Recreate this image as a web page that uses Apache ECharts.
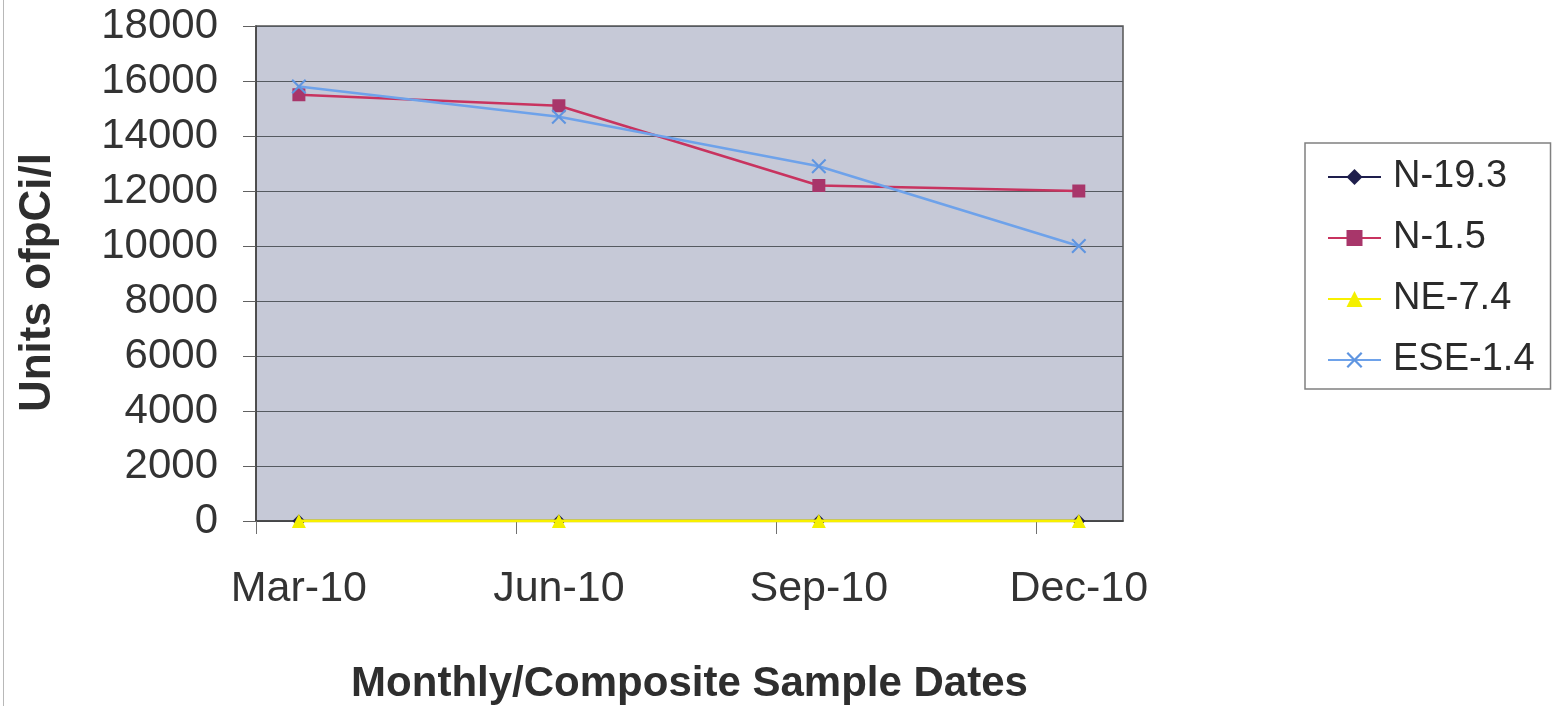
<!DOCTYPE html>
<html>
<head>
<meta charset="utf-8">
<script src="https://cdn.jsdelivr.net/npm/echarts@6/dist/echarts.min.js"></script>
<style>
html,body{margin:0;padding:0;background:#fff;}
#chart{width:1554px;height:706px;}
</style>
</head>
<body>
<div id="chart"></div>
<script>
var dateLabels = ['Mar-10', 'Jun-10', 'Sep-10', 'Dec-10'];
var seriesNames = ['N-19.3', 'N-1.5', 'NE-7.4', 'ESE-1.4'];
var n193 = [0, 0, 0, 0];
var n15 = [15500, 15100, 12200, 12000];
var ne74 = [0, 0, 0, 0];
var ese14 = [15800, 14700, 12900, 10000];
var yTicks = [0, 2000, 4000, 6000, 8000, 10000, 12000, 14000, 16000, 18000];

function pts(arr) { return arr.map(function (v, i) { return [i, v]; }); }

var xSymbol = 'path://M0,1L1,0L5,4L9,0L10,1L6,5L10,9L9,10L5,6L1,10L0,9L4,5Z';
var FONT = 'Liberation Sans, Arial, sans-serif';

var chart = echarts.init(document.getElementById('chart'), null, {renderer: 'canvas'});
chart.setOption({
  animation: false,
  backgroundColor: '#ffffff',
  textStyle: {fontFamily: FONT},
  graphic: [{
    type: 'line', shape: {x1: 3.5, y1: 0, x2: 3.5, y2: 706},
    style: {stroke: '#b8b8b8', lineWidth: 1}
  }],
  grid: {left: 256, right: 431, top: 26, bottom: 185, show: true, containLabel: false,
         outerBoundsMode: 'none',
         backgroundColor: '#c6c9d7', borderWidth: 1.5, borderColor: '#555'},
  legend: {
    orient: 'vertical', left: 1305, top: 143,
    padding: [14, 16, 9, 22],
    backgroundColor: '#ffffff', borderColor: '#808080', borderWidth: 1.5,
    itemWidth: 53, itemHeight: 20, itemGap: 21,
    textStyle: {fontSize: 38, color: '#2a2a2a', fontFamily: FONT, padding: [0, 0, 0, 7], lineHeight: 40},
    data: seriesNames
  },
  xAxis: {
    type: 'value', min: -0.165, max: 3.17,
    name: 'Monthly/Composite Sample Dates', nameLocation: 'middle', nameGap: 142,
    nameTextStyle: {fontSize: 42, fontWeight: 'bold', color: '#2e2e2e', fontFamily: FONT},
    axisLine: {show: true, onZero: false, lineStyle: {color: '#404040', width: 1.5}},
    axisTick: {show: true, length: 13, customValues: [-0.165, 0.835, 1.835, 2.835],
               lineStyle: {color: '#707070', width: 1}},
    axisLabel: {customValues: [0, 1, 2, 3], fontSize: 43, color: '#333', margin: 47,
                formatter: function (v) { return dateLabels[Math.round(v)]; }},
    splitLine: {show: false}
  },
  yAxis: {
    type: 'value', min: 0, max: 18000, interval: 2000,
    name: 'Units ofpCi/l', nameLocation: 'middle', nameGap: 196, nameRotate: 90,
    nameTextStyle: {fontSize: 44, fontWeight: 'bold', color: '#2e2e2e', fontFamily: FONT,
                    padding: [0, 18, 0, 0]},
    axisLine: {show: true, onZero: false, lineStyle: {color: '#404040', width: 1.5}},
    axisTick: {show: true, length: 13, lineStyle: {color: '#606060', width: 1}},
    axisLabel: {fontSize: 42, color: '#333', margin: 38,
                formatter: function (v) { return yTicks.indexOf(v) >= 0 ? String(v) : ''; }},
    splitLine: {show: true, lineStyle: {color: '#555a60', width: 1.2}}
  },
  series: [
    {name: seriesNames[0], type: 'line', data: pts(n193), symbol: 'diamond', symbolSize: 13,
     itemStyle: {color: '#1e1e4c'}, lineStyle: {color: '#1e1e4c', width: 2.5}, z: 2},
    {name: seriesNames[1], type: 'line', data: pts(n15), symbol: 'rect', symbolSize: 13,
     itemStyle: {color: '#a8366a'}, lineStyle: {color: '#c8335f', width: 2.5}, z: 3},
    {name: seriesNames[2], type: 'line', data: pts(ne74), symbol: 'triangle', symbolSize: 14,
     itemStyle: {color: '#f4f000'}, lineStyle: {color: '#f8f000', width: 3}, z: 4},
    {name: seriesNames[3], type: 'line', data: pts(ese14), symbol: xSymbol, symbolSize: 15,
     itemStyle: {color: '#5f95e0'}, lineStyle: {color: '#6ea2ea', width: 2.5}, z: 5}
  ]
});
</script>
</body>
</html>
